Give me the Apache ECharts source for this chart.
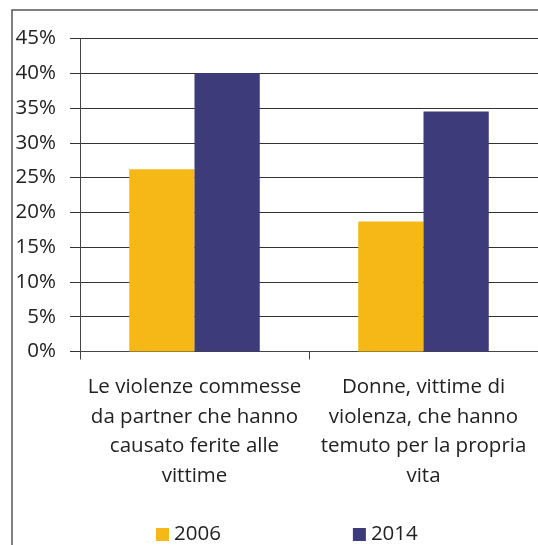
<!DOCTYPE html>
<html>
<head>
<meta charset="utf-8">
<script src="https://cdn.jsdelivr.net/npm/echarts@6/dist/echarts.min.js"></script>
<style>
  html, body { margin: 0; padding: 0; background: #fff; }
  #chart { width: 538px; height: 545px; }
</style>
</head>
<body>
<div id="chart"></div>
<script>
// categorie e valori (%)
var categories = [
    'Le violenze commesse\nda partner che hanno\ncausato ferite alle\nvittime',
    'Donne, vittime di\nviolenza, che hanno\ntemuto per la propria\nvita'
];
var seriesNames = ['2006', '2014'];
var values2006 = [26.2, 18.7];
var values2014 = [40, 34.5];
var yTicks = [0, 5, 10, 15, 20, 25, 30, 35, 40, 45];

var myChart = echarts.init(document.getElementById('chart'));
var font = 'Open Sans, Lato, sans-serif';
var option = {
    animation: false,
    textStyle: { fontFamily: font, color: '#222' },
    graphic: [{
        type: 'rect',
        shape: { x: 12, y: 10, width: 600, height: 600 },
        style: { fill: 'none', stroke: '#555', lineWidth: 1.5 }
    }],
    grid: { left: 80, right: -3, top: 38.5, bottom: 193.5, containLabel: false },
    legend: {
        data: seriesNames,
        left: 151, top: 519,
        itemWidth: 13, itemHeight: 13, itemGap: 132,
        icon: 'rect',
        textStyle: { fontSize: 20.5, color: '#222', fontFamily: font }
    },
    xAxis: {
        type: 'category',
        data: categories,
        axisLine: { lineStyle: { color: '#444', width: 1 } },
        axisTick: { show: true, length: 8, lineStyle: { color: '#444' } },
        axisLabel: { fontSize: 20.5, lineHeight: 29.5, color: '#222', margin: 21, interval: 0, align: 'center' }
    },
    yAxis: {
        type: 'value',
        min: yTicks[0], max: yTicks[yTicks.length - 1], interval: 5,
        axisLine: { show: true, lineStyle: { color: '#444', width: 1 } },
        axisTick: { show: true, length: 10, lineStyle: { color: '#333' } },
        splitLine: { lineStyle: { color: '#333', width: 1 } },
        axisLabel: { fontSize: 20.5, color: '#222', margin: 24, formatter: '{value}%' }
    },
    series: [
        { name: seriesNames[0], type: 'bar', data: values2006, barWidth: '28.5%', barGap: '0%',
          itemStyle: { color: '#F5B816' } },
        { name: seriesNames[1], type: 'bar', data: values2014, barWidth: '28.5%', barGap: '0%',
          itemStyle: { color: '#3E3B7B' } }
    ]
};
myChart.setOption(option);
</script>
</body>
</html>
